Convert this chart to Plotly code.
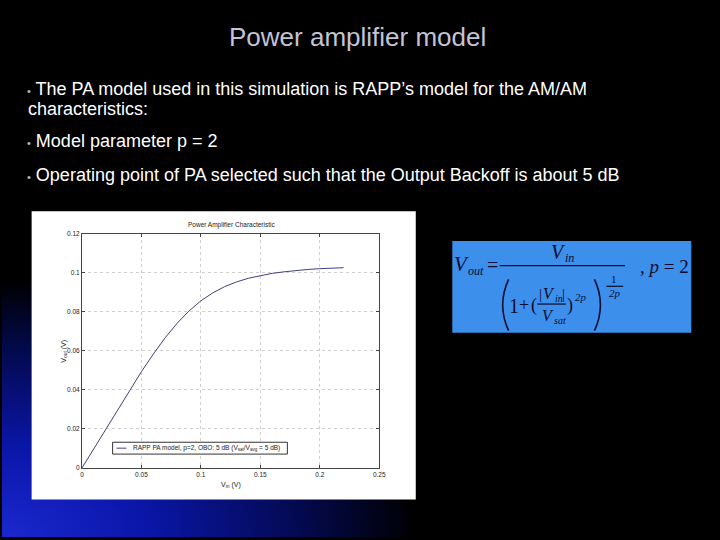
import plotly.graph_objects as go
from urllib.parse import quote

# ---- data ----
vin = [0.0, 0.01, 0.02, 0.03, 0.04, 0.05, 0.06, 0.07, 0.08, 0.09, 0.10, 0.11,
       0.12, 0.13, 0.14, 0.15, 0.16, 0.17, 0.18, 0.19, 0.20, 0.21, 0.22]
vout = [0.0, 0.0100, 0.0200, 0.02995, 0.0398, 0.0494, 0.0584, 0.0668, 0.0742,
        0.0805, 0.0857, 0.0898, 0.0930, 0.0954, 0.0973, 0.0987, 0.0998, 0.1006,
        0.1013, 0.1018, 0.1022, 0.1025, 0.1027]
x_ticks = [0, 0.05, 0.1, 0.15, 0.2, 0.25]
x_tick_labels = ["0", "0.05", "0.1", "0.15", "0.2", "0.25"]
y_ticks = [0, 0.02, 0.04, 0.06, 0.08, 0.1, 0.12]
y_tick_labels = ["0", "0.02", "0.04", "0.06", "0.08", "0.1", "0.12"]

W, H = 720, 540


def px(x):
    return x / W


def py(y):
    return 1 - y / H


fig = go.Figure()
fig.add_trace(go.Scatter(x=vin, y=vout, mode="lines",
                         line=dict(color="#404080", width=1),
                         name="RAPP PA model", showlegend=False,
                         hoverinfo="skip"))

# background gradient (svg data uri)
svg = ("<svg xmlns='http://www.w3.org/2000/svg' width='720' height='540' viewBox='0 0 720 540' preserveAspectRatio='none'>"
       "<defs><radialGradient id='g' gradientUnits='userSpaceOnUse' cx='0' cy='540' r='420' "
       "gradientTransform='translate(0 540) scale(1 0.62) translate(0 -540)'>"
       "<stop offset='0' stop-color='#1a28d0'/>"
       "<stop offset='0.35' stop-color='#0a16a8'/>"
       "<stop offset='0.7' stop-color='#040a55'/>"
       "<stop offset='1' stop-color='#000000'/>"
       "</radialGradient></defs>"
       "<rect width='720' height='540' fill='#000'/>"
       "<rect width='720' height='540' fill='url(#g)'/></svg>")
src = "data:image/svg+xml;charset=utf-8," + quote(svg)

shapes = []
# white chart panel
shapes.append(dict(type="rect", xref="paper", yref="paper", x0=px(30), x1=px(419),
                   y0=py(502), y1=py(210), fillcolor="white", line=dict(width=0),
                   layer="below"))
# formula panel
shapes.append(dict(type="rect", xref="paper", yref="paper", x0=px(456), x1=px(698),
                   y0=py(333), y1=py(240), fillcolor="#3c8fea", line=dict(width=0),
                   layer="below"))
# legend box
shapes.append(dict(type="rect", xref="paper", yref="paper", x0=px(112), x1=px(289),
                   y0=py(456), y1=py(444), fillcolor="white",
                   line=dict(color="#333333", width=1)))
shapes.append(dict(type="line", xref="paper", yref="paper", x0=px(116), x1=px(126),
                   y0=py(450), y1=py(450), line=dict(color="#404080", width=1)))

ink = "#0c0c30"
# fraction lines
for (x0, x1, y) in [(504, 631, 265), (542, 571, 304), (612, 629, 286)]:
    shapes.append(dict(type="line", xref="paper", yref="paper", x0=px(x0), x1=px(x1),
                       y0=py(y), y1=py(y), line=dict(color=ink, width=1.2)))


def paren(xa, xb, ytop, ybot):
    ym = (ytop + ybot) / 2
    return (f"M {px(xa)},{py(ytop)} Q {px(xb)},{py(ym)} {px(xa)},{py(ybot)}")


shapes.append(dict(type="path", xref="paper", yref="paper",
                   path=paren(513, 501, 279, 331), line=dict(color=ink, width=1.6)))
shapes.append(dict(type="path", xref="paper", yref="paper",
                   path=paren(600, 612, 279, 331), line=dict(color=ink, width=1.6)))

annotations = []


def ann(text, x, y, size, color="white", family="Liberation Sans", xanchor="center",
        yanchor="middle", angle=0):
    annotations.append(dict(text=text, x=px(x), y=py(y), xref="paper", yref="paper",
                            showarrow=False, xanchor=xanchor, yanchor=yanchor,
                            textangle=angle,
                            font=dict(size=size, color=color, family=family)))


# slide title and bullets
ann("Power amplifier model", 360, 33, 26, color="#c4c4d2")
bul = "<span style='font-size:11px;color:#bbbbbb'>•</span> "
ann(bul + "The PA model used in this simulation is RAPP’s model for the AM/AM", 23, 86, 18,
    xanchor="left")
ann("characteristics:", 24, 106, 18, xanchor="left")
ann(bul + "Model parameter p = 2", 23, 139, 18, xanchor="left")
ann(bul + "Operating point of PA selected such that the Output Backoff is about 5 dB", 23, 173, 18,
    xanchor="left")

# chart texts
dark = "#222222"
ann("Power Amplifier Characteristic", 232, 224, 6.5, color=dark)
ann("V<sub>in</sub> (V)", 232, 487, 7, color=dark)
ann("V<sub>out</sub> (V)", 63, 352, 7, color=dark, angle=-90)
ann("RAPP PA model, p=2, OBO: 5 dB (V<sub>sat</sub>/V<sub>avg</sub> = 5 dB)", 131, 450, 6.5,
    color=dark, xanchor="left")

# formula
serif = "Liberation Serif"
ann("<i>V</i>", 465, 263, 21, color=ink, family=serif)
ann("<i>out</i>", 480, 270, 12, color=ink, family=serif)
ann("=", 497, 264, 20, color=ink, family=serif)
ann("<i>V</i>", 564, 251, 20, color=ink, family=serif)
ann("<i>in</i>", 575, 257, 12, color=ink, family=serif)
ann("1", 518, 306, 20, color=ink, family=serif)
ann("+", 529, 305, 18, color=ink, family=serif)
ann("(", 539, 305, 18, color=ink, family=serif)
ann("|", 545, 294, 15, color=ink, family=serif)
ann("<i>V</i>", 554, 293, 16, color=ink, family=serif)
ann("<i>in</i>", 564, 298, 10, color=ink, family=serif)
ann("|", 569, 294, 15, color=ink, family=serif)
ann("<i>V</i>", 553, 316, 16, color=ink, family=serif)
ann("<i>sat</i>", 565, 321, 10, color=ink, family=serif)
ann(")", 575, 305, 18, color=ink, family=serif)
ann("<i>2p</i>", 586, 297, 11, color=ink, family=serif)
ann("1", 620, 279, 11, color=ink, family=serif)
ann("<i>2p</i>", 621, 293, 11, color=ink, family=serif)
ann(", <i>p</i> = 2", 671, 266, 19, color=ink, family=serif)

axis_common = dict(showline=True, linecolor="#444444", linewidth=1, mirror="allticks",
                   ticks="inside", ticklen=3, tickcolor="#444444", showgrid=True,
                   gridcolor="#cfcfcf", griddash="dot", gridwidth=1, zeroline=False,
                   tickfont=dict(size=6.5, color=dark, family="Liberation Sans"))

fig.update_layout(
    width=W, height=H,
    margin=dict(l=0, r=0, t=0, b=0),
    paper_bgcolor="black",
    plot_bgcolor="white",
    showlegend=False,
    images=[dict(source=src, xref="paper", yref="paper", x=0, y=1, sizex=1, sizey=1,
                 xanchor="left", yanchor="top", sizing="stretch", layer="below")],
    xaxis=dict(domain=[px(81), px(382)], range=[0, 0.25], tickvals=x_ticks,
               ticktext=x_tick_labels, **axis_common),
    yaxis=dict(domain=[py(470), py(233)], range=[0, 0.12], tickvals=y_ticks,
               ticktext=y_tick_labels, **axis_common),
    shapes=shapes,
    annotations=annotations,
)

post = ("document.documentElement.style.margin='0';"
        "document.documentElement.style.padding='0';"
        "document.documentElement.style.overflow='hidden';"
        "document.documentElement.style.background='black';"
        "document.body.style.margin='0';document.body.style.padding='0';"
        "document.body.style.overflow='hidden';"
        "document.body.style.width='720px';document.body.style.height='540px';"
        "var d=document.getElementById('{plot_id}');"
        "d.style.display='block';d.style.overflow='hidden';"
        "if(d.parentElement){d.parentElement.style.height='540px';"
        "d.parentElement.style.overflow='hidden';}")

fig.write_html("out.html", config={"displayModeBar": False}, post_script=post)
